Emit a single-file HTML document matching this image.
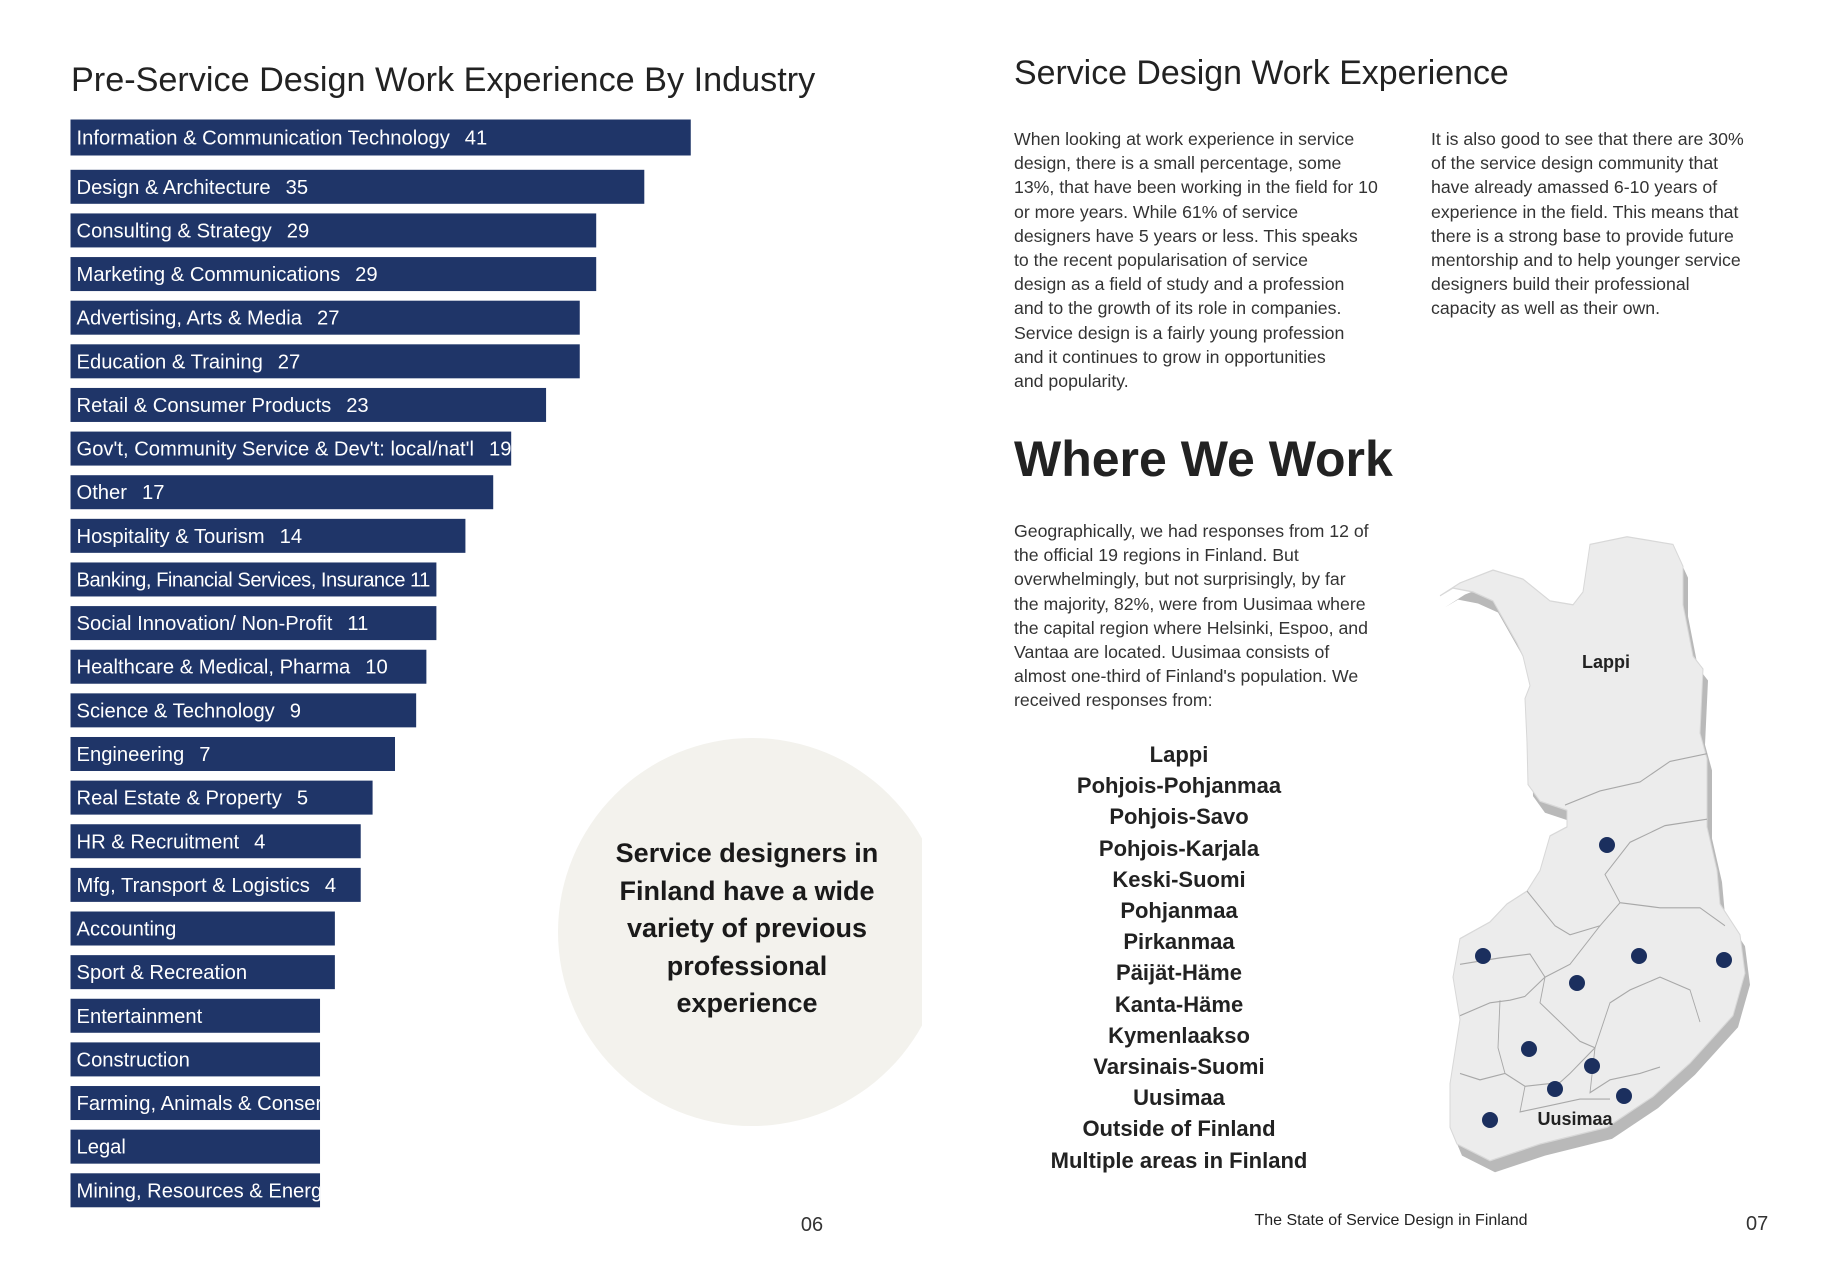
<!DOCTYPE html>
<html><head><meta charset="utf-8">
<style>
html,body{margin:0;padding:0;background:#fff;}
body{width:1836px;height:1276px;position:relative;overflow:hidden;font-family:"Liberation Sans",sans-serif;color:#222;}
.abs{position:absolute;white-space:nowrap;}
.para{font-size:17.7px;line-height:24.2px;color:#333;}
.regions{font-size:22px;font-weight:bold;line-height:31.2px;text-align:center;color:#222;}
</style></head><body>
<svg id="chart" width="940" height="1276" style="position:absolute;left:0;top:0">
  <defs><clipPath id="pageclip"><rect x="0" y="0" width="922" height="1276"/></clipPath></defs>
  <circle cx="752" cy="932" r="194" fill="#f3f2ed" clip-path="url(#pageclip)"/>
  <text x="71" y="91" font-size="34.2" fill="#222" font-family="Liberation Sans, sans-serif">Pre-Service Design Work Experience By Industry</text>
  <g id="bars"></g>
  <g font-size="27" font-weight="bold" fill="#1a1a1a" text-anchor="middle" font-family="Liberation Sans, sans-serif">
    <text x="747" y="862">Service designers in</text>
    <text x="747" y="900">Finland have a wide</text>
    <text x="747" y="937">variety of previous</text>
    <text x="747" y="975">professional</text>
    <text x="747" y="1012">experience</text>
  </g>
  <text x="812" y="1231" font-size="20" fill="#333" text-anchor="middle">06</text>
</svg>

<div class="abs" style="left:1014px;top:54px;font-size:33.9px;color:#222;">Service Design Work Experience</div>
<div class="abs para" style="left:1014px;top:127px;">When looking at work experience in service<br>design, there is a small percentage, some<br>13%, that have been working in the field for 10<br>or more years. While 61% of service<br>designers have 5 years or less. This speaks<br>to the recent popularisation of service<br>design as a field of study and a profession<br>and to the growth of its role in companies.<br>Service design is a fairly young profession<br>and it continues to grow in opportunities<br>and popularity.</div>
<div class="abs para" style="left:1431px;top:127px;">It is also good to see that there are 30%<br>of the service design community that<br>have already amassed 6-10 years of<br>experience in the field. This means that<br>there is a strong base to provide future<br>mentorship and to help younger service<br>designers build their professional<br>capacity as well as their own.</div>
<div class="abs" style="left:1014px;top:430px;font-size:50px;font-weight:bold;color:#222;">Where We Work</div>
<div class="abs para" style="left:1014px;top:519px;">Geographically, we had responses from 12 of<br>the official 19 regions in Finland. But<br>overwhelmingly, but not surprisingly, by far<br>the majority, 82%, were from Uusimaa where<br>the capital region where Helsinki, Espoo, and<br>Vantaa are located. Uusimaa consists of<br>almost one-third of Finland's population. We<br>received responses from:</div>
<div class="abs regions" style="left:1029px;width:300px;top:739px;">Lappi<br>Pohjois-Pohjanmaa<br>Pohjois-Savo<br>Pohjois-Karjala<br>Keski-Suomi<br>Pohjanmaa<br>Pirkanmaa<br>Päijät-Häme<br>Kanta-Häme<br>Kymenlaakso<br>Varsinais-Suomi<br>Uusimaa<br>Outside of Finland<br>Multiple areas in Finland</div>

<svg width="1836" height="1276" style="position:absolute;left:0;top:0;pointer-events:none">
  <g transform="translate(0,538) scale(1,1.284) translate(0,-538)">
  <polygon transform="translate(5,9)" fill="#b9b9b9" points="1440,583 1453,577 1473,580 1493,587 1517,620 1523,630 1530,653 1525,663 1527,697 1528,730 1540,743 1567,750 1567,763 1550,770 1540,797 1527,813 1507,823 1490,837 1460,850 1453,880 1460,913 1450,963 1450,997 1457,1010 1490,1023 1540,1010 1607,997 1653,973 1690,947 1733,910 1745,877 1740,847 1720,823 1717,797 1707,763 1707,710 1700,690 1703,640 1693,630 1683,590 1683,560 1673,543 1627,537 1590,543 1583,580 1573,590 1550,587 1523,570 1493,563 1460,573"/>
  <polygon fill="#ececec" stroke="#d8d8d8" stroke-width="1" points="1440,583 1453,577 1473,580 1493,587 1517,620 1523,630 1530,653 1525,663 1527,697 1528,730 1540,743 1567,750 1567,763 1550,770 1540,797 1527,813 1507,823 1490,837 1460,850 1453,880 1460,913 1450,963 1450,997 1457,1010 1490,1023 1540,1010 1607,997 1653,973 1690,947 1733,910 1745,877 1740,847 1720,823 1717,797 1707,763 1707,710 1700,690 1703,640 1693,630 1683,590 1683,560 1673,543 1627,537 1590,543 1583,580 1573,590 1550,587 1523,570 1493,563 1460,573"/>
  <g fill="none" stroke="#a8a8a8" stroke-width="0.9">
    <polyline points="1565,746 1600,735 1640,728 1670,712 1707,706"/>
    <polyline points="1707,757 1665,762 1630,775 1605,800 1620,822 1660,826 1700,826 1725,840"/>
    <polyline points="1527,813 1555,840 1570,847 1600,840 1620,822"/>
    <polyline points="1460,870 1500,865 1530,862 1545,880 1570,870 1600,840"/>
    <polyline points="1545,880 1540,900 1560,915 1580,930 1595,935 1610,900 1630,890 1660,880 1690,890 1700,915"/>
    <polyline points="1460,910 1490,900 1510,898 1525,895 1545,880"/>
    <polyline points="1500,898 1498,935 1505,955 1525,965 1560,962 1570,955 1595,935"/>
    <polyline points="1595,935 1590,970 1610,960 1640,955 1660,950"/>
    <polyline points="1460,955 1480,960 1505,955"/>
    <polyline points="1525,965 1520,985 1550,980 1580,975 1610,975"/>
  </g>
  </g>
  <g id="dots" fill="#1b2f5e"></g>
  <text x="1606" y="668" font-size="18" font-weight="bold" fill="#222" text-anchor="middle" font-family="Liberation Sans, sans-serif">Lappi</text>
  <text x="1575" y="1125" font-size="18" font-weight="bold" fill="#222" text-anchor="middle" font-family="Liberation Sans, sans-serif">Uusimaa</text>
</svg>

<div class="abs" style="left:1251px;top:1212px;font-size:16px;color:#222;width:280px;text-align:center;">The State of Service Design in Finland</div>
<div class="abs" style="left:1746px;top:1213px;font-size:20px;color:#333;">07</div>

<script>
const categories = ["Information & Communication Technology","Design & Architecture","Consulting & Strategy","Marketing & Communications","Advertising, Arts & Media","Education & Training","Retail & Consumer Products","Gov't, Community Service & Dev't: local/nat'l","Other","Hospitality & Tourism","Banking, Financial Services, Insurance","Social Innovation/ Non-Profit","Healthcare & Medical, Pharma","Science & Technology","Engineering","Real Estate & Property","HR & Recruitment","Mfg, Transport & Logistics","Accounting","Sport & Recreation","Entertainment","Construction","Farming, Animals & Conservation","Legal","Mining, Resources & Energy"];
const values = [41,35,29,29,27,27,23,19,17,14,11,11,10,9,7,5,4,4,2,2,1,1,1,1,1];
const valueLabels = ["41","35","29","29","27","27","23","19","17","14","11","11","10","9","7","5","4","4","","","","","","",""];
const mapDotX = [1607,1483,1577,1639,1724,1529,1592,1555,1624,1490];
const mapDotY = [845,956,983,956,960,1049,1066,1089,1096,1120];

const NS = "http://www.w3.org/2000/svg";
const x0 = 70.5, a = 229.5, b = 20.03;
function xScale(v){ return x0 + a + b * Math.pow(v, 0.8); }
function yCenter(i){ return i === 0 ? 137.5 : 186.8 + (i - 1) * 43.63; }
const barH = 34;
const g = document.getElementById("bars");
categories.forEach((c, i) => {
  const w = xScale(values[i]) - x0;
  const yc = yCenter(i);
  const r = document.createElementNS(NS, "rect");
  r.setAttribute("x", x0); r.setAttribute("y", yc - barH/2 - (i===0?1:0));
  r.setAttribute("width", w); r.setAttribute("height", barH + (i===0?2:0));
  r.setAttribute("fill", "#1f3568");
  
  
  g.appendChild(r);
  const cp = document.createElementNS(NS, "clipPath");
  cp.setAttribute("id", "bc" + i);
  const cr = document.createElementNS(NS, "rect");
  cr.setAttribute("x", x0); cr.setAttribute("y", yc - barH/2); cr.setAttribute("width", w); cr.setAttribute("height", barH);
  cp.appendChild(cr); g.appendChild(cp);
  const t = document.createElementNS(NS, "text");
  t.setAttribute("x", x0 + 6); t.setAttribute("y", yc + 7);
  t.setAttribute("font-size", "20.2"); t.setAttribute("fill", "#fff");
  t.setAttribute("font-family", "Liberation Sans, sans-serif");
  t.setAttribute("clip-path", "url(#bc" + i + ")");
  
  
  t.appendChild(document.createTextNode(c));
  g.appendChild(t);
  if (valueLabels[i]) {
    const s = document.createElementNS(NS, "tspan");
    s.setAttribute("dx", "15");
    s.textContent = valueLabels[i];
    
    
    t.appendChild(s);
    try {
      if (t.getComputedTextLength() > w - 10) {
        s.setAttribute("dx", "5");
        if (t.getComputedTextLength() > w - 8) t.setAttribute("textLength", w - 12);
      }
    } catch (e) {}
  }
});
const dg = document.getElementById("dots");
mapDotX.forEach((x, i) => {
  const c = document.createElementNS(NS, "circle");
  c.setAttribute("cx", x); c.setAttribute("cy", mapDotY[i]); c.setAttribute("r", 8);
  
  
  dg.appendChild(c);
});
</script>
</body></html>
